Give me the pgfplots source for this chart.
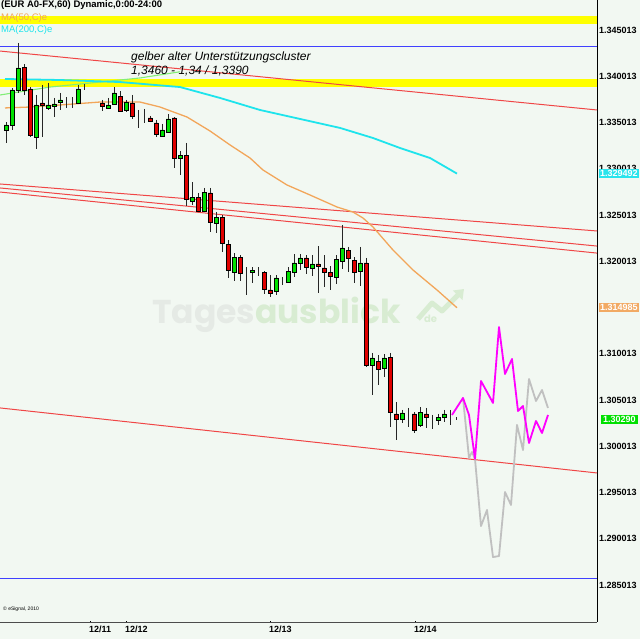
\documentclass[border=0pt]{standalone}
\usepackage{pgfplots}
\pgfplotsset{compat=1.18}
\usepackage{pgfplotstable}
\usetikzlibrary{arrows.meta}
\usepackage{fontspec}
\setmainfont{Liberation Sans}
\newfontfamily\wmfont{Poppins}
\definecolor{bg}{RGB}{242,248,242}
\definecolor{cgreen}{RGB}{0,224,0}
\definecolor{cred}{RGB}{224,0,0}
\definecolor{tline}{RGB}{240,70,70}
\definecolor{ma50}{RGB}{242,166,90}
\definecolor{ma200}{RGB}{30,228,236}
\definecolor{gline}{RGB}{130,238,120}
\definecolor{proj}{RGB}{255,0,255}
\definecolor{projg}{RGB}{192,192,192}
\definecolor{band}{RGB}{255,255,0}
\definecolor{wmgray}{RGB}{229,234,229}
\definecolor{wmgreen}{RGB}{216,236,210}
\definecolor{boxcyan}{RGB}{40,228,236}
\definecolor{boxorange}{RGB}{242,170,100}
\definecolor{boxgreen}{RGB}{0,224,0}

% candle bodies: x, bottom of body, green height, red height
\pgfplotstableread{
x lo g r
6 1.33421 0.00054 0
12 1.33475 0.00378 0
18 1.33853 0.00238 0
24 1.33853 0 0.00248
30 1.33367 0 0.00497
36 1.33345 0.00346 0
42 1.33691 0 0.00022
48 1.33659 0.00032 0
54 1.33680 0.00022 0
60 1.33723 0.00022 0
66 1.33734 0 0
72 1.33723 0 0
78 1.33713 0.00151 0
84 1.33875 0 0
90 1.33875 0 0
96 1.33875 0 0
102 1.33680 0 0.00033
108 1.33659 0.00032 0
114 1.33702 0.00119 0
120 1.33626 0 0.00162
126 1.33637 0.00086 0
132 1.33572 0 0.00141
138 1.33583 0 0
144 1.33572 0 0
150 1.33518 0 0.00033
156 1.33378 0 0.00119
162 1.33356 0.00065 0
168 1.33399 0.00141 0
174 1.33118 0 0.00433
180 1.33118 0.00032 0
186 1.32675 0 0.00475
192 1.32653 0.00043 0
198 1.32545 0 0.00151
204 1.32545 0.00205 0
210 1.32426 0 0.00314
216 1.32416 0.00064 0
222 1.32199 0 0.00281
228 1.31907 0 0.00281
234 1.31885 0.00162 0
240 1.31874 0 0.00173
246 1.31885 0 0
252 1.31885 0.00022 0
258 1.31907 0 0
264 1.31702 0 0.00183
270 1.31659 0 0.00032
276 1.31680 0.00141 0
282 1.31788 0 0
288 1.31777 0.00119 0
294 1.31885 0.00098 0
300 1.31983 0.00054 0
306 1.31939 0 0.00098
312 1.31929 0.00043 0
318 1.31950 0 0.00022
324 1.31885 0 0.00044
330 1.31842 0 0.00043
336 1.31831 0.00195 0
342 1.32004 0.00141 0
348 1.32037 0 0.00086
354 1.31885 0 0.00130
360 1.31896 0.00087 0
366 1.30880 0 0.01103
372 1.30880 0.00076 0
378 1.30837 0 0.00086
384 1.30848 0.00108 0
390 1.30372 0 0.00594
396 1.30297 0 0.00054
402 1.30297 0.00065 0
408 1.30340 0 0
414 1.30177 0 0.00174
420 1.30232 0.00140 0
426 1.30318 0 0.00033
432 1.30307 0 0
438 1.30286 0.00032 0
444 1.30318 0.00033 0
450 1.30318 0 0
456 1.30290 0 0
}\bodies

\pgfplotsset{chartbase/.style={
  at={(0pt,17pt)}, anchor=south west, scale only axis,
  width=597pt, height=622pt,
  xmin=0, xmax=597, ymin=1.28102, ymax=1.34826,
}}

\begin{document}
\begin{tikzpicture}
\useasboundingbox (0pt,0pt) rectangle (640pt,639pt);
\fill[bg] (0pt,0pt) rectangle (640pt,639pt);
% watermark
\node[anchor=base west, inner sep=0pt, font=\wmfont\bfseries\fontsize{33}{33}\selectfont] at (152pt,315pt) {\textcolor{wmgray}{Tages}\textcolor{wmgreen}{ausblick}};
\node[anchor=base west, inner sep=0pt, text=wmgreen, font=\wmfont\bfseries\fontsize{10}{10}\selectfont] at (424pt,316pt) {de};
\draw[wmgreen, line width=5pt, line join=round, -{Triangle[length=9pt,width=13pt]}] (418pt,320pt) -- (432pt,336pt) -- (442pt,328pt) -- (464pt,350pt);

\begin{axis}[chartbase,
  axis x line=bottom, axis y line=right,
  axis line style={-},
  x axis line style={draw=black!70, line width=0.8pt},
  y axis line style={draw=black, line width=0.8pt},
  xtick={90,126,270,415}, xticklabels={12/11,12/12,12/13,12/14},
  xticklabel style={anchor=north west, inner sep=0pt, font=\fontsize{9}{10}\selectfont\bfseries, yshift=-3pt, xshift=-1pt},
  xtick style={black, line width=0.6pt},
  major tick length=2pt,
  ytick={1.285013,1.290013,1.295013,1.300013,1.305013,1.310013,1.315013,1.320013,1.325013,1.330013,1.335013,1.340013,1.345013},
  yticklabels={1.285013,1.290013,1.295013,1.300013,1.305013,1.310013,1.315013,1.320013,1.325013,1.330013,1.335013,1.340013,1.345013},
  yticklabel style={anchor=west, inner sep=0pt, font=\fontsize{9}{10}\selectfont\bfseries, xshift=1pt},
  ytick style={draw=none},
  clip=true,
]
% yellow support bands
\addplot[draw=none, fill=band] coordinates {(0,1.34567) (597,1.34567) (597,1.34653) (0,1.34653)} -- cycle;
\addplot[draw=none, fill=band] coordinates {(0,1.33885) (597,1.33885) (597,1.33972) (0,1.33972)} -- cycle;
% blue horizontal lines
\addplot[color=blue!75!white, line width=1pt] coordinates {(0,1.34318) (597,1.34318)};
\addplot[color=blue!75!white, line width=1pt] coordinates {(0,1.28567) (597,1.28567)};
% red trend lines
\addplot[tline, line width=1pt] coordinates {(0,1.34274) (597,1.33637)};
\addplot[tline, line width=1pt] coordinates {(0,1.32837) (597,1.32329)};
\addplot[tline, line width=1pt] coordinates {(0,1.32794) (597,1.32166)};
\addplot[tline, line width=1pt] coordinates {(0,1.32750) (597,1.32090)};
\addplot[tline, line width=1pt] coordinates {(0,1.30416) (597,1.29713)};
% green line
\addplot[gline, line width=1.1pt] coordinates {(0,1.33799) (50,1.33885) (100,1.33939) (140,1.33983) (180,1.34050)};
% MA(200)
\addplot[ma200, line width=1.8pt] coordinates {(5,1.33972) (60,1.33961) (120,1.33939) (180,1.33885) (220,1.33767) (260,1.33637) (300,1.33540) (340,1.33443) (373,1.33334) (400,1.33226) (430,1.33118) (457,1.32949)};
% MA(50)
\addplot[ma50, line width=1.3pt] coordinates {(5,1.33659) (30,1.33669) (60,1.33691) (100,1.33723) (120,1.33723) (140,1.33723) (160,1.33669) (187,1.33561) (210,1.33410) (230,1.33259) (250,1.33118) (263,1.32988) (287,1.32826) (310,1.32718) (337,1.32588) (353,1.32534) (363,1.32469) (373,1.32372) (393,1.32123) (413,1.31907) (437,1.31691) (457,1.31499)};
% wicks (high, low)
\addplot[black!85, line width=0.9pt, unbounded coords=jump] coordinates {
(6,1.33507)(6,1.33281)(6,nan) (12,1.33875)(12,1.33421)(12,nan) (18,1.34362)(18,1.33821)(18,nan)
(24,1.34134)(24,1.33799)(24,nan) (30,1.33885)(30,1.33345)(30,nan) (36,1.33799)(36,1.33216)(36,nan)
(42,1.33907)(42,1.33345)(42,nan) (48,1.33929)(48,1.33637)(48,nan) (54,1.33767)(54,1.33561)(54,nan)
(60,1.33821)(60,1.33637)(60,nan) (66,1.33777)(66,1.33659)(66,nan) (72,1.33777)(72,1.33659)(72,nan)
(78,1.33907)(78,1.33702)(78,nan) (84,1.33918)(84,1.33853)(84,nan)
(102,1.33745)(102,1.33626)(102,nan) (108,1.33767)(108,1.33659)(108,nan) (114,1.33885)(114,1.33691)(114,nan)
(120,1.33842)(120,1.33615)(120,nan) (126,1.33745)(126,1.33615)(126,nan) (132,1.33799)(132,1.33540)(132,nan)
(138,1.33637)(138,1.33443)(138,nan) (144,1.33648)(144,1.33497)(144,nan) (150,1.33572)(150,1.33507)(150,nan)
(156,1.33529)(156,1.33345)(156,nan) (162,1.33486)(162,1.33345)(162,nan) (168,1.33594)(168,1.33389)(168,nan)
(174,1.33561)(174,1.33010)(174,nan) (180,1.33193)(180,1.32934)(180,nan) (186,1.33281)(186,1.32599)(186,nan)
(192,1.32858)(192,1.32610)(192,nan) (198,1.32740)(198,1.32534)(198,nan) (204,1.32794)(204,1.32534)(204,nan)
(210,1.32794)(210,1.32318)(210,nan) (216,1.32534)(216,1.32308)(216,nan) (222,1.32502)(222,1.32101)(222,nan)
(228,1.32231)(228,1.31821)(228,nan) (234,1.32090)(234,1.31788)(234,nan) (240,1.32069)(240,1.31788)(240,nan)
(246,1.31939)(246,1.31637)(246,nan) (252,1.31939)(252,1.31767)(252,nan) (258,1.31939)(258,1.31842)(258,nan)
(264,1.31896)(264,1.31648)(264,nan) (270,1.31853)(270,1.31615)(270,nan) (276,1.31853)(276,1.31637)(276,nan)
(282,1.31831)(282,1.31745)(282,nan) (288,1.31939)(288,1.31767)(288,nan) (294,1.32080)(294,1.31831)(294,nan)
(300,1.32080)(300,1.31907)(300,nan) (306,1.32069)(306,1.31864)(306,nan) (312,1.32069)(312,1.31842)(312,nan)
(318,1.32166)(318,1.31659)(318,nan) (324,1.32069)(324,1.31724)(324,nan) (330,1.31950)(330,1.31691)(330,nan)
(336,1.32069)(336,1.31756)(336,nan) (342,1.32394)(342,1.31918)(342,nan) (348,1.32156)(348,1.31885)(348,nan)
(354,1.32047)(354,1.31767)(354,nan) (360,1.32156)(360,1.31734)(360,nan) (366,1.32037)(366,1.30858)(366,nan)
(372,1.31010)(372,1.30556)(372,nan) (378,1.30988)(378,1.30664)(378,nan) (384,1.30999)(384,1.30750)(384,nan)
(390,1.31010)(390,1.30210)(390,nan) (396,1.30480)(396,1.30069)(396,nan) (402,1.30394)(402,1.30254)(402,nan)
(408,1.30416)(408,1.30210)(408,nan) (414,1.30372)(414,1.30145)(414,nan) (420,1.30426)(420,1.30210)(420,nan)
(426,1.30416)(426,1.30199)(426,nan) (432,1.30340)(432,1.30188)(432,nan) (438,1.30351)(438,1.30232)(438,nan)
(444,1.30394)(444,1.30264)(444,nan) (450,1.30394)(450,1.30232)(450,nan) (456,1.30318)(456,1.30286)
};
% projections
\addplot[projg, line width=1.8pt, line join=round] coordinates {(463,1.30524) (469,1.29875) (472,1.29940) (475,1.29864) (481,1.29139) (487,1.29313) (493,1.28804) (499,1.28815) (505,1.29507) (511,1.29367) (517,1.30232) (523,1.29961) (529,1.30729) (536,1.30491) (542,1.30610) (548,1.30416)};
\addplot[proj, line width=1.8pt, line join=round] coordinates {(452,1.30340) (463,1.30524) (469,1.30340) (475,1.29864) (481,1.30707) (493,1.30470) (499,1.31291) (505,1.30783) (512,1.30945) (518,1.30383) (523,1.30437) (529,1.30037) (536,1.30275) (542,1.30145) (548,1.30340)};
\coordinate (lc) at (axis cs:597,1.329492);
\coordinate (lo) at (axis cs:597,1.314985);
\coordinate (lg) at (axis cs:597,1.30290);
\end{axis}

\begin{axis}[chartbase, hide axis, ybar stacked, bar width=4pt, clip=true]
\addplot[draw=none, fill=none] table[x=x, y=lo] {\bodies};
\addplot[draw=black, line width=0.7pt, fill=cgreen] table[x=x, y=g] {\bodies};
\addplot[draw=black, line width=0.7pt, fill=cred] table[x=x, y=r] {\bodies};
\end{axis}

% value boxes on the price scale
\node[fill=boxcyan, text=white, anchor=west, inner xsep=1pt, inner ysep=1.5pt, font=\fontsize{9}{10}\selectfont\bfseries, xshift=2pt] at (lc) {1.329492};
\node[fill=boxorange, text=white, anchor=west, inner xsep=1pt, inner ysep=1.5pt, font=\fontsize{9}{10}\selectfont\bfseries, xshift=2pt] at (lo) {1.314985};
\node[fill=boxgreen, text=white, anchor=west, inner xsep=2pt, inner ysep=1.5pt, font=\fontsize{9}{10}\selectfont\bfseries, xshift=4pt] at (lg) {1.30290};

% header
\node[anchor=west, inner sep=0pt, font=\fontsize{9.5}{10}\selectfont\bfseries] at (1pt,634pt) {(EUR A0-FX,60) Dynamic,0:00-24:00};
\node[anchor=west, inner sep=0pt, text=ma50, font=\fontsize{9.5}{10}\selectfont] at (1pt,621pt) {MA(50,C)e};
\node[anchor=west, inner sep=0pt, text=ma200, font=\fontsize{9.5}{10}\selectfont] at (1pt,609pt) {MA(200,C)e};

% annotation
\node[anchor=west, inner sep=0pt, font=\fontsize{12}{13}\selectfont\itshape] at (131pt,582pt) {gelber alter Unterstützungscluster};
\node[anchor=west, inner sep=0pt, font=\fontsize{12}{13}\selectfont\itshape] at (131pt,568pt) {1,3460 - 1,34 / 1,3390};

\node[anchor=west, inner sep=0pt, font=\fontsize{5}{5}\selectfont] at (3pt,30pt) {\textcopyright{} eSignal, 2010};
\end{tikzpicture}
\end{document}
